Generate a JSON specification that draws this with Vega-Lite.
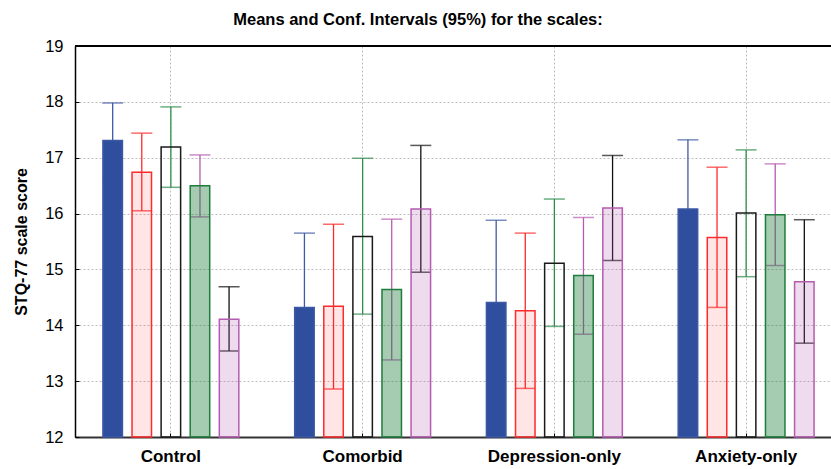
{
  "$schema": "https://vega.github.io/schema/vega-lite/v6.json",
  "width": 756,
  "height": 391,
  "autosize": {"type": "none"},
  "padding": {"left": 75, "top": 46, "right": 0, "bottom": 32},
  "background": "white",
  "title": {
    "text": "Means and Conf. Intervals (95%) for the scales:",
    "font": "Liberation Sans",
    "fontSize": 16.5,
    "fontWeight": "bold",
    "color": "#000000",
    "anchor": "middle",
    "dx": -35,
    "offset": 10
  },
  "config": {
    "view": {"stroke": null},
    "axis": {
      "labelFont": "Liberation Sans",
      "titleFont": "Liberation Sans",
      "labelColor": "#000000",
      "titleColor": "#000000",
      "gridColor": "#bdbdbd",
      "gridDash": [2, 2],
      "gridWidth": 1,
      "tickColor": "#000000"
    }
  },
  "data": {
    "values": [
      {"group": "Control", "series": "S1", "mean": 17.31, "lower": 16.64, "upper": 17.98},
      {"group": "Control", "series": "S2", "mean": 16.74, "lower": 16.05, "upper": 17.44},
      {"group": "Control", "series": "S3", "mean": 17.19, "lower": 16.47, "upper": 17.91},
      {"group": "Control", "series": "S4", "mean": 16.50, "lower": 15.94, "upper": 17.05},
      {"group": "Control", "series": "S5", "mean": 14.11, "lower": 13.54, "upper": 14.69},
      {"group": "Comorbid", "series": "S1", "mean": 14.32, "lower": 12.99, "upper": 15.65},
      {"group": "Comorbid", "series": "S2", "mean": 14.34, "lower": 12.86, "upper": 15.81},
      {"group": "Comorbid", "series": "S3", "mean": 15.59, "lower": 14.20, "upper": 16.99},
      {"group": "Comorbid", "series": "S4", "mean": 14.64, "lower": 13.38, "upper": 15.90},
      {"group": "Comorbid", "series": "S5", "mean": 16.08, "lower": 14.95, "upper": 17.22},
      {"group": "Depression-only", "series": "S1", "mean": 14.41, "lower": 12.94, "upper": 15.88},
      {"group": "Depression-only", "series": "S2", "mean": 14.26, "lower": 12.87, "upper": 15.65},
      {"group": "Depression-only", "series": "S3", "mean": 15.11, "lower": 13.98, "upper": 16.26},
      {"group": "Depression-only", "series": "S4", "mean": 14.89, "lower": 13.84, "upper": 15.93},
      {"group": "Depression-only", "series": "S5", "mean": 16.10, "lower": 15.16, "upper": 17.04},
      {"group": "Anxiety-only", "series": "S1", "mean": 16.08, "lower": 14.84, "upper": 17.32},
      {"group": "Anxiety-only", "series": "S2", "mean": 15.57, "lower": 14.32, "upper": 16.83},
      {"group": "Anxiety-only", "series": "S3", "mean": 16.01, "lower": 14.87, "upper": 17.14},
      {"group": "Anxiety-only", "series": "S4", "mean": 15.98, "lower": 15.07, "upper": 16.89},
      {"group": "Anxiety-only", "series": "S5", "mean": 14.78, "lower": 13.68, "upper": 15.89}
    ]
  },
  "encoding": {
    "y": {
      "type": "quantitative",
      "scale": {"domain": [12, 19], "nice": false, "zero": false},
      "axis": {
        "title": "STQ-77 scale score",
        "values": [12, 13, 14, 15, 16, 17, 18, 19],
        "format": "d",
        "grid": true,
        "domainColor": "#000000",
        "domainWidth": 1.5,
        "tickSize": -4,
        "tickWidth": 1,
        "labelPadding": 16,
        "labelFontSize": 16.5,
        "titleFontSize": 16,
        "titleFontWeight": "bold",
        "titlePadding": 15
      }
    }
  },
  "layer": [
    {
      "encoding": {
        "x": {
          "field": "group", "type": "nominal",
          "sort": ["Control", "Comorbid", "Depression-only", "Anxiety-only"],
          "scale": {"range": [0, 767], "paddingInner": 0, "paddingOuter": 0},
          "axis": {
            "title": null,
            "orient": "bottom",
            "bandPosition": 0.5,
            "grid": true,
            "domainColor": "#333333",
            "domainWidth": 2,
            "tickSize": -4,
            "tickWidth": 1,
            "labelPadding": 15,
            "labelFontSize": 17,
            "labelFontWeight": "bold",
            "labelAngle": 0
          }
        },
        "xOffset": {"field": "series", "type": "nominal", "scale": {"paddingInner": 0.33, "paddingOuter": 0.96}}
      },
      "layer": [
        {
          "mark": {"type": "rule", "strokeWidth": 1.3},
          "encoding": {
            "y": {"field": "lower"},
            "y2": {"field": "upper"},
            "color": {
              "field": "series", "type": "nominal",
              "scale": {"domain": ["S1", "S2", "S3", "S4", "S5"], "range": ["#3f5aa6", "#ff2a2a", "#2e8b4e", "#b55cb0", "#111111"]},
              "legend": null
            }
          }
        },
        {
          "mark": {"type": "tick", "thickness": 1.5},
          "encoding": {
            "y": {"field": "lower"},
            "size": {"value": 20},
            "color": {"field": "series", "type": "nominal", "legend": null}
          }
        },
        {
          "mark": {"type": "tick", "thickness": 1.5},
          "encoding": {
            "y": {"field": "upper"},
            "size": {"value": 21},
            "color": {"field": "series", "type": "nominal", "legend": null}
          }
        },
        {
          "mark": {"type": "bar", "strokeWidth": 1.5},
          "encoding": {
            "y": {"field": "mean"},
            "y2": {"datum": 12},
            "fill": {
              "field": "series", "type": "nominal",
              "scale": {"domain": ["S1", "S2", "S3", "S4", "S5"], "range": ["#2f4e9e", "#ff2a2a", "#ffffff", "#1e7d3c", "#b55cb0"]},
              "legend": null
            },
            "fillOpacity": {
              "field": "series", "type": "nominal",
              "scale": {"type": "ordinal", "domain": ["S1", "S2", "S3", "S4", "S5"], "range": [1, 0.12, 0, 0.4, 0.22]},
              "legend": null
            },
            "stroke": {
              "field": "series", "type": "nominal",
              "scale": {"domain": ["S1", "S2", "S3", "S4", "S5"], "range": ["#3b58a5", "#ff2a2a", "#1a1a1a", "#1e7d3c", "#b55cb0"]},
              "legend": null
            }
          }
        }
      ]
    },
    {
      "mark": {"type": "rule", "color": "#000000", "strokeWidth": 1.5},
      "encoding": {"y": {"datum": 19}}
    }
  ]
}
